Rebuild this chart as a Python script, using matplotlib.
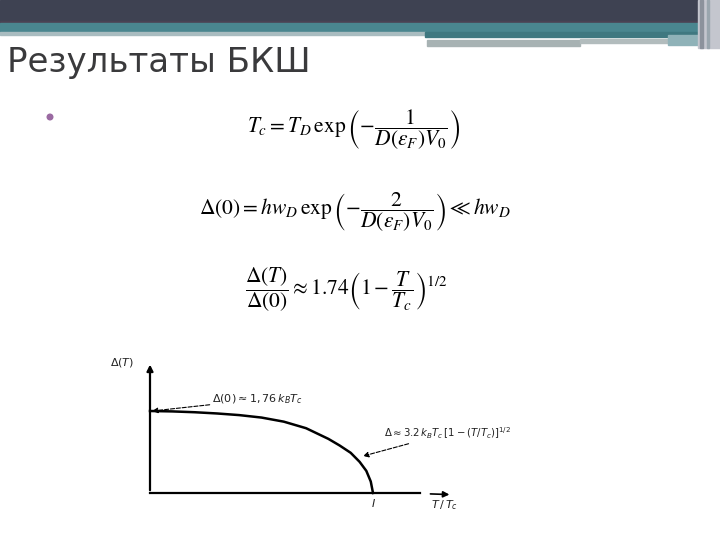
import matplotlib.pyplot as plt
from matplotlib.patches import Rectangle, Circle

# BCS gap curve (T/Tc, Delta(T)/Delta(0))
t_ratio = [0.0, 0.1, 0.2, 0.3, 0.4, 0.5, 0.6, 0.7, 0.8, 0.85, 0.9, 0.94, 0.97, 0.99, 1.0]
gap_ratio = [1.0, 0.995, 0.985, 0.97, 0.95, 0.92, 0.87, 0.79, 0.66, 0.58, 0.49, 0.38, 0.27, 0.14, 0.0]

title = "Результаты БКШ"
formulas = [
    r"$T_c = T_D\,\exp\left(-\dfrac{1}{D(\varepsilon_F)V_0}\right)$",
    r"$\Delta(0) = hw_D\,\exp\left(-\dfrac{2}{D(\varepsilon_F)V_0}\right) \ll hw_D$",
    r"$\dfrac{\Delta(T)}{\Delta(0)} \approx 1.74\left(1-\dfrac{T}{T_c}\right)^{1/2}$",
]
note_low = r"$\Delta(0) \approx 1,76\,k_B T_c$"
note_high = r"$\Delta \approx 3.2\,k_B T_c\,[1-(T/T_c)]^{1/2}$"

fig = plt.figure(figsize=(7.2, 5.4), dpi=100)

# slide background in pixel coordinates
bg = fig.add_axes([0, 0, 1, 1])
bg.set_xlim(0, 720)
bg.set_ylim(540, 0)
bg.axis("off")

bg.add_patch(Rectangle((0, 0), 720, 23, color="#3e4252"))
bg.add_patch(Rectangle((0, 21), 720, 2, color="#4a4253"))
bg.add_patch(Rectangle((0, 23), 700, 9, color="#4a868f"))
bg.add_patch(Rectangle((0, 32), 425, 3, color="#a9bcc0"))
bg.add_patch(Rectangle((425, 32), 275, 5, color="#3f7880"))
bg.add_patch(Rectangle((427, 40), 153, 6, color="#a7b2b3"))
bg.add_patch(Rectangle((580, 39), 88, 4, color="#b2bcbd"))
bg.add_patch(Rectangle((668, 35), 32, 10, color="#8fb2b8"))
bg.add_patch(Rectangle((698, 0), 22, 48, color="#c4c6ce"))
bg.add_patch(Rectangle((700, 0), 3, 48, color="#8c929c"))
bg.add_patch(Rectangle((707, 0), 2, 48, color="#9aa6ae"))

bg.text(7, 72, title, fontsize=24.5, color="#3a3a3c", family="DejaVu Sans", va="baseline")
bg.add_patch(Circle((50, 117), 2.8, color="#9a6aa2"))

form_pos = [(354, 130), (355, 212), (346, 290)]
for f, (x, y) in zip(formulas, form_pos):
    bg.text(x, y, f, fontsize=15.5, ha="center", va="center", math_fontfamily="stix", color="black")

# gap sketch: data (0,0) at pixel (150,493), (1,1) at pixel (373,411)
ax = fig.add_axes([100 / 720, 25 / 540, 370 / 720, 160 / 540])
ax.set_xlim((100 - 150) / 223, (470 - 150) / 223)
ax.set_ylim((493 - 515) / 82, (493 - 355) / 82)
ax.axis("off")

ax.plot(t_ratio, gap_ratio, color="black", lw=1.8)
ax.plot([0, 1.21], [0, 0], color="black", lw=1.6)
ax.annotate("", xy=(1.355, -0.02), xytext=(1.245, -0.01),
            arrowprops=dict(arrowstyle="-|>", color="black", lw=1.2, mutation_scale=9))
ax.annotate("", xy=(0, 1.6), xytext=(0, 0),
            arrowprops=dict(arrowstyle="-|>", color="black", lw=1.6, mutation_scale=9))

ax.text(-0.18, 1.55, r"$\Delta(T)$", fontsize=8, math_fontfamily="dejavusans", color="#222")
ax.text(1.0, -0.17, r"$I$", fontsize=8, math_fontfamily="dejavusans", ha="center", color="#222")
ax.text(1.26, -0.19, r"$T\,/\,T_c$", fontsize=8, math_fontfamily="dejavusans", color="#222")

ax.annotate(note_low, xy=(0.01, 1.0), xytext=(0.28, 1.14), fontsize=8,
            math_fontfamily="dejavusans", color="#222", va="center",
            arrowprops=dict(arrowstyle="-|>", color="black", lw=0.8, ls="--",
                            mutation_scale=8, shrinkA=0, shrinkB=0))
ax.annotate(note_high, xy=(0.955, 0.45), xytext=(1.05, 0.73), fontsize=7.3,
            math_fontfamily="dejavusans", color="#222", va="center",
            arrowprops=dict(arrowstyle="-|>", color="black", lw=0.8, ls="--",
                            mutation_scale=8, shrinkA=0, shrinkB=0))

fig.savefig("out.png", dpi=100)
